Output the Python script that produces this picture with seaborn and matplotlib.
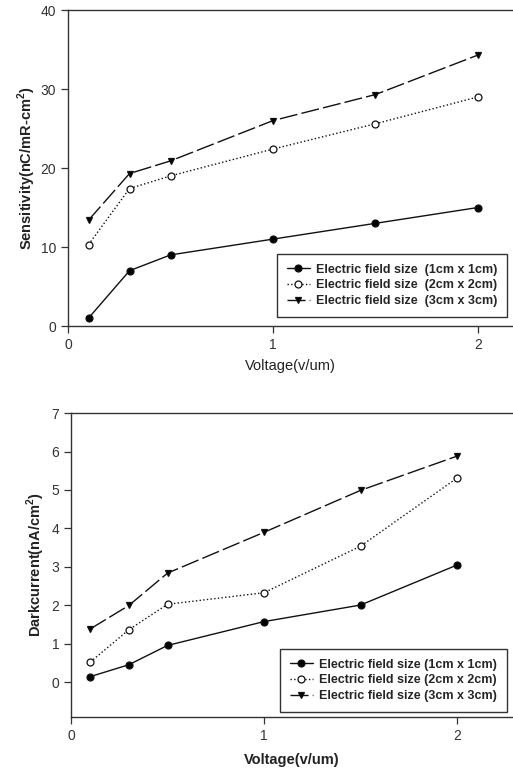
import seaborn as sns
import matplotlib.pyplot as plt

volt = [0.1, 0.3, 0.5, 1.0, 1.5, 2.0]

sens_1cm = [1.0, 7.0, 9.0, 11.0, 13.0, 15.0]
sens_2cm = [10.3, 17.4, 19.0, 22.4, 25.6, 29.0]
sens_3cm = [13.4, 19.3, 20.9, 26.0, 29.3, 34.3]

dark_1cm = [0.15, 0.46, 0.96, 1.58, 2.01, 3.05]
dark_2cm = [0.53, 1.37, 2.03, 2.33, 3.54, 5.31]
dark_3cm = [1.39, 2.0, 2.84, 3.9, 4.99, 5.88]

top_labels = ["Electric field size  (1cm x 1cm)",
              "Electric field size  (2cm x 2cm)",
              "Electric field size  (3cm x 3cm)"]
bot_labels = ["Electric field size (1cm x 1cm)",
              "Electric field size (2cm x 2cm)",
              "Electric field size (3cm x 3cm)"]

sns.set_style("ticks")
plt.rcParams['font.family'] = ['Liberation Sans', 'DejaVu Sans']
plt.rcParams['mathtext.fontset'] = 'custom'
plt.rcParams['mathtext.rm'] = 'Liberation Sans'
plt.rcParams['mathtext.bf'] = 'Liberation Sans:bold'

fig = plt.figure(figsize=(5.13, 7.7), dpi=100)
ax1 = fig.add_axes([0.1326, 0.5766, 0.8674, 0.4104])
ax2 = fig.add_axes([0.1384, 0.0688, 0.8616, 0.3948])

styles = [dict(marker='o', linestyle='-', markerfacecolor='black'),
          dict(marker='o', linestyle=':', markerfacecolor='white'),
          dict(marker='v', linestyle=(0, (13, 3)), markerfacecolor='black')]


def draw(ax, series, labels):
    for vals, lab, st in zip(series, labels, styles):
        sns.lineplot(x=volt, y=vals, ax=ax, color='#111111', linewidth=1.0,
                     markersize=5, markeredgecolor='#111111', markeredgewidth=0.9,
                     label=lab, **st)
    ax.spines['right'].set_visible(False)
    for s in ['left', 'bottom', 'top']:
        ax.spines[s].set_color('#333333')
        ax.spines[s].set_linewidth(1.0)
    ax.tick_params(direction='out', length=5, width=0.9, color='#333333',
                   labelsize=10, labelcolor='#333333', top=False, right=False)
    ax.set_xticks([0, 1, 2])


draw(ax1, [sens_1cm, sens_2cm, sens_3cm], top_labels)
ax1.set_xlim(0, 2.171)
ax1.set_ylim(0, 40)
ax1.set_yticks([0, 10, 20, 30, 40])
ax1.set_xlabel("Voltage(v/um)", fontsize=10.5, labelpad=5, color='#222222')
ax1.set_ylabel(r"Sensitivity(nC/mR-cm$^\mathbf{2}$)", fontsize=10.5,
               fontweight='bold', labelpad=2, color='#222222')
leg1 = ax1.legend(loc='lower right', bbox_to_anchor=(0.987, 0.028),
                  borderaxespad=0, fancybox=False, framealpha=1,
                  edgecolor='#333333', prop={'weight': 'bold', 'size': 9},
                  handlelength=1.8, handletextpad=0.5, borderpad=0.8,
                  labelspacing=0.3)
leg1.get_frame().set_linewidth(1.0)

draw(ax2, [dark_1cm, dark_2cm, dark_3cm], bot_labels)
ax2.set_xlim(0, 2.29)
ax2.set_ylim(-0.9, 7)
ax2.set_yticks(range(0, 8))
ax2.set_xlabel("Voltage(v/um)", fontsize=10.5, fontweight='bold', labelpad=7,
               color='#222222')
ax2.set_ylabel(r"Darkcurrent(nA/cm$^\mathbf{2}$)", fontsize=10.5,
               fontweight='bold', labelpad=3, color='#222222')
leg2 = ax2.legend(loc='lower right', bbox_to_anchor=(0.986, 0.016),
                  borderaxespad=0, fancybox=False, framealpha=1,
                  edgecolor='#333333', prop={'weight': 'bold', 'size': 9},
                  handlelength=1.8, handletextpad=0.5, borderpad=0.8,
                  labelspacing=0.3)
leg2.get_frame().set_linewidth(1.0)

plt.savefig('out.png', dpi=100)
